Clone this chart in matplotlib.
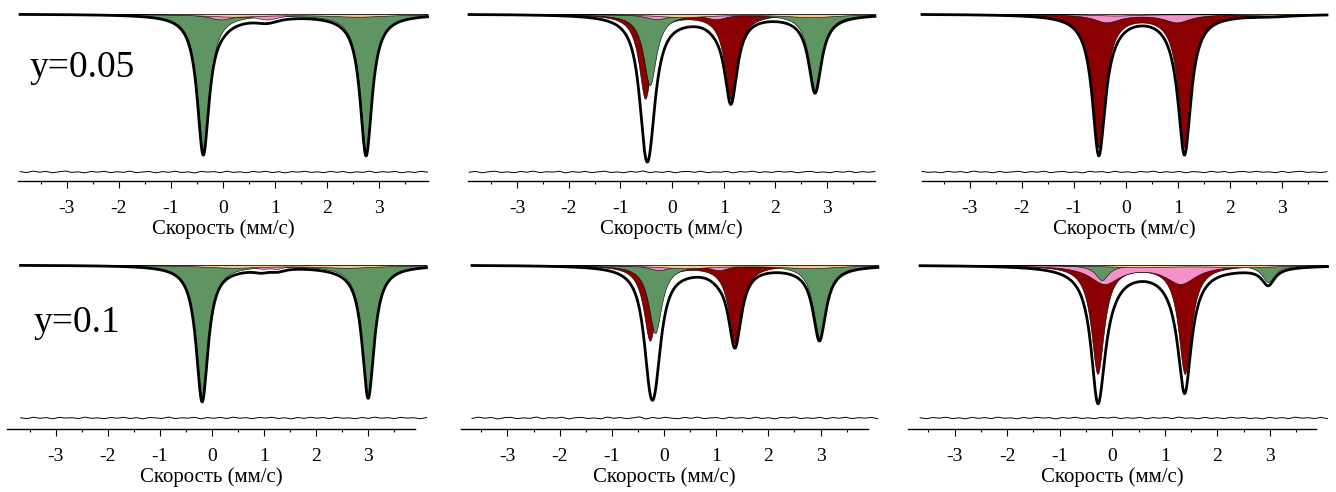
import numpy as np
import matplotlib.pyplot as plt
from matplotlib.ticker import MultipleLocator

plt.rcParams['font.family'] = ['Liberation Serif', 'DejaVu Serif']
plt.rcParams['axes.unicode_minus'] = False

# colours of the subspectra
colors = {"red": "#8b0000", "green": "#5f9563", "pink": "#f590c8", "orange": "#fcc891"}

# ---- fitted subspectra (doublets): line positions (mm/s), depths (arb.), FWHM (mm/s)
# panel 1: y=0.05, left
p1_comp = ["green", "pink", "orange"]
p1_lines = [[-0.38, 2.75], [-0.05, 0.85], [0.2, 2.6]]
p1_depth = [[137, 139], [5, 5], [2.5, 2.5]]
p1_fwhm = [0.28, 0.55, 1.4]

# panel 2: y=0.05, middle
p2_comp = ["red", "green", "pink", "orange"]
p2_lines = [[-0.52, 1.14], [-0.43, 2.77], [-0.3, 0.85], [0.2, 2.7]]
p2_depth = [[84, 85], [71, 75], [5, 5], [3, 3]]
p2_fwhm = [0.3, 0.3, 0.5, 1.2]

# panel 3: y=0.05, right
p3_comp = ["red", "pink", "orange"]
p3_lines = [[-0.52, 1.13], [-0.37, 0.98], [-0.2, 2.8]]
p3_depth = [[133, 133], [8, 8], [1.5, 1.5]]
p3_fwhm = [0.3, 0.6, 1.0]

# panel 4: y=0.1, left
p4_comp = ["green", "pink", "orange"]
p4_lines = [[-0.19, 3.0], [0.95, 1.25], [0.4, 2.6]]
p4_depth = [[135, 131], [3, 3], [2.5, 2.5]]
p4_fwhm = [0.28, 0.35, 1.4]

# panel 5: y=0.1, middle
p5_comp = ["red", "green", "pink", "orange"]
p5_lines = [[-0.27, 1.36], [-0.17, 2.98], [-0.1, 1.05], [0.4, 2.8]]
p5_depth = [[75, 78], [68, 72], [5, 5], [3, 3]]
p5_fwhm = [0.3, 0.3, 0.45, 1.3]

# panel 6: y=0.1, right
p6_comp = ["red", "pink", "green", "orange"]
p6_lines = [[-0.28, 1.38], [-0.15, 1.3], [-0.2, 2.97], [0.5, 2.5]]
p6_depth = [[108, 108], [18, 18], [15, 17], [2, 2]]
p6_fwhm = [0.3, 0.7, 0.3, 1.5]

# residuals (difference curves), read off roughly
r1 = [0.5, -0.8, 1.2, -0.3, 0.9, -1.1, 0.2, 1.4, -0.6, 0.3, -1.3, 0.8, -0.2, 1.0, -0.9, 0.4,
      -0.5, 1.3, -1.0, 0.1, 0.7, -1.2, 0.6, -0.4, 1.1, -0.7, 0.2, -1.4, 0.9, -0.1, 0.5, -0.9,
      1.2, -0.6, 0.3, -1.1, 0.8, -0.3, 1.0, -0.8, 0.4, -1.3, 0.6, -0.2, 1.1, -0.5, 0.2, -1.0,
      0.9, -0.4, 0.7, -1.2, 0.3, -0.6, 1.2, -0.9, 0.5, -0.3, 0.8, -1.1, 0.4, -0.7, 1.0, -0.2]
r2 = [-0.4, 0.9, -1.2, 0.3, 1.1, -0.6, 0.2, -1.0, 0.8, -0.3, 1.3, -0.9, 0.4, -0.1, 1.0, -1.3,
      0.6, -0.5, 0.9, -0.8, 0.2, 1.2, -0.7, 0.1, -1.1, 0.7, -0.2, 1.5, -0.9, 0.3, -0.6, 1.0,
      -1.2, 0.5, 0.8, -0.4, 1.1, -1.0, 0.2, -0.3, 0.9, -1.3, 0.6, -0.1, 1.2, -0.8, 0.4, -0.6,
      1.0, -0.2, 0.7, -1.1, 0.3, 0.9, -0.7, 0.1, -1.0, 0.8, -0.4, 1.1, -0.9, 0.5, -0.3, 0.6]
r3 = [0.8, -0.5, 0.2, -1.1, 1.0, -0.3, 0.6, -0.9, 1.3, -0.2, 0.4, -1.2, 0.9, -0.6, 0.1, 1.1,
      -0.8, 0.5, -0.4, 1.2, -1.0, 0.3, 0.7, -0.7, 0.2, -1.3, 1.0, -0.1, 0.6, -0.9, 1.1, -0.5,
      0.3, -1.0, 0.8, -0.2, 1.2, -0.8, 0.4, -0.6, 0.9, -1.2, 0.5, 0.1, -0.9, 1.0, -0.4, 0.7,
      -1.1, 0.3, 0.8, -0.5, 1.1, -0.3, 0.2, -1.0, 0.9, -0.7, 0.4, 1.0, -0.6, 0.2, -0.9, 0.5]
r4 = [0.3, -0.9, 1.1, -0.4, 0.6, -1.2, 0.9, -0.1, 0.4, -0.8, 1.2, -0.5, 0.2, -1.0, 0.8, -0.3,
      1.0, -0.7, 0.5, -1.3, 0.7, 0.1, -0.6, 1.3, -0.9, 0.3, -0.2, 1.0, -1.1, 0.6, -0.4, 0.9,
      -0.8, 1.2, -0.3, 0.5, -1.0, 0.8, -0.1, 1.1, -0.7, 0.4, -1.2, 0.7, -0.5, 1.0, -0.2, 0.6,
      -0.9, 1.1, -0.4, 0.2, -1.0, 0.8, -0.6, 1.2, -0.3, 0.5, -0.8, 0.9, -0.2, 0.4, -1.1, 0.7]
r5 = [-0.6, 1.2, -0.3, 0.8, -1.4, 0.5, 1.0, -0.9, 0.2, -0.5, 1.4, -1.1, 0.6, -0.2, 1.1, -1.3,
      0.4, 0.9, -0.8, 0.1, -1.2, 1.3, -0.4, 0.7, -1.0, 0.3, 1.6, -1.4, 0.8, -0.6, 1.0, -0.2,
      -1.1, 0.9, -0.5, 1.3, -0.9, 0.2, 0.6, -1.2, 1.1, -0.3, 0.5, -1.0, 1.2, -0.7, 0.4, -1.3,
      0.9, -0.1, 1.4, -0.8, 0.3, -0.6, 1.0, -1.2, 0.7, -0.4, 1.1, -0.9, 0.5, -0.2, 0.8, -1.0]
r6 = [0.4, -1.0, 0.7, -0.2, 1.1, -0.8, 0.3, -1.2, 0.9, -0.5, 0.6, -0.9, 1.2, -0.3, 0.2, -1.1,
      0.8, -0.6, 1.0, -0.1, 0.5, -1.3, 0.7, -0.4, 1.1, -0.7, 0.3, -1.0, 0.9, -0.2, 1.2, -0.8,
      0.4, -0.5, 1.0, -1.2, 0.6, -0.3, 0.8, -0.9, 1.3, -0.4, 0.2, -1.1, 0.9, -0.6, 0.5, -1.0,
      1.1, -0.3, 0.7, -0.8, 0.2, -1.2, 1.0, -0.5, 0.6, -0.9, 1.2, -0.2, 0.4, -0.7, 0.9, -1.0]

labels = ["y=0.05", "y=0.1"]
xlab = "Скорость (мм/с)"

panels = [
    (p1_comp, p1_lines, p1_depth, p1_fwhm, r1),
    (p2_comp, p2_lines, p2_depth, p2_fwhm, r2),
    (p3_comp, p3_lines, p3_depth, p3_fwhm, r3),
    (p4_comp, p4_lines, p4_depth, p4_fwhm, r4),
    (p5_comp, p5_lines, p5_depth, p5_fwhm, r5),
    (p6_comp, p6_lines, p6_depth, p6_fwhm, r6),
]

# layout in pixels: left, width of the axis line
W, H = 1336, 492
ax_px = [(18, 410), (468, 407), (922, 405), (7, 408), (461, 407), (908, 408)]
xlims = [(-3.94, 3.94), (-3.95, 3.93), (-3.92, 3.87), (-3.94, 3.90), (-3.89, 3.91), (-3.89, 3.88)]
data_rng = [(-3.90, 3.93), (-3.93, 3.93), (-3.92, 3.87), (-3.68, 4.12), (-3.68, 4.10), (-3.66, 4.10)]
row_box = [(181, 4, -167, 10, -158), (429, 255, -164, 10, -153)]  # spine y, top y, ylo, yhi, resid


def lorentz(v, v0, depth, fwhm):
    g = fwhm / 2.0
    return depth * g**2 / ((v - v0)**2 + g**2)


fig = plt.figure(figsize=(W / 100, H / 100), dpi=100)

for i, (comp, lines, depth, fwhm, res) in enumerate(panels):
    row = i // 3
    spine_y, top_y, ylo, yhi, roff = row_box[row]
    left, width = ax_px[i]
    ax = fig.add_axes([left / W, (H - spine_y) / H, width / W, (spine_y - top_y) / H])
    ax.set_xlim(*xlims[i])
    ax.set_ylim(ylo, yhi)

    v = np.linspace(data_rng[i][0], data_rng[i][1], 1200)
    total = np.zeros_like(v)
    for c, ln, d, w in zip(comp, lines, depth, fwhm):
        sub = lorentz(v, ln[0], d[0], w) + lorentz(v, ln[1], d[1], w)
        total += sub
        ax.fill_between(v, 0, -sub, facecolor=colors[c], edgecolor="black",
                        linewidth=0.4, clip_on=False)
    ax.plot(v, -total, color="black", lw=2.0, clip_on=False)

    xr = np.linspace(data_rng[i][0], data_rng[i][1], len(res))
    ax.plot(xr, roff + 0.7 * np.array(res), color="black", lw=0.7, clip_on=False)

    for s in ["top", "left", "right"]:
        ax.spines[s].set_visible(False)
    ax.spines["bottom"].set_linewidth(1.0)
    ax.set_yticks([])
    ax.xaxis.set_major_locator(MultipleLocator(1))
    ax.xaxis.set_minor_locator(MultipleLocator(0.5))
    ax.tick_params(axis="x", which="major", direction="out", length=5, width=0.8,
                   labelsize=14, pad=9)
    ax.tick_params(axis="x", which="minor", direction="out", length=2.5, width=0.8)
    ax.set_xlabel(xlab, fontsize=15, labelpad=1)
    ax.patch.set_alpha(0)

fig.text(30 / W, 1 - 68 / H, labels[0], fontsize=27, va="center", ha="left")
fig.text(33 / W, 1 - 323 / H, labels[1], fontsize=27, va="center", ha="left")

fig.savefig("out.png", dpi=100)
